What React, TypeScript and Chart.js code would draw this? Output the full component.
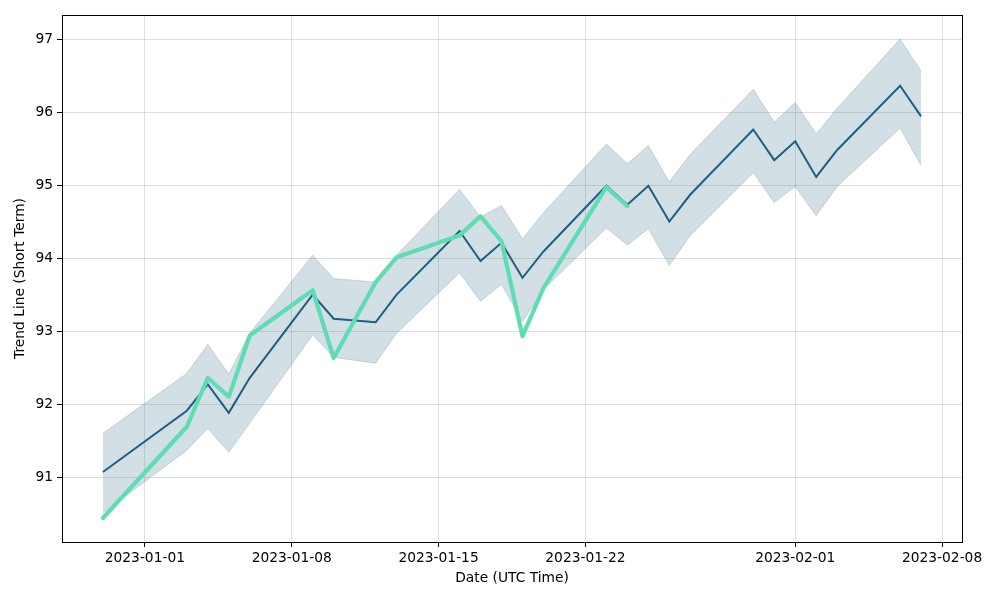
import React, { useEffect, useRef } from "react";
import { Chart, registerables } from "chart.js";

Chart.register(...registerables);

// Trading dates for the trend line and its band
const trendDates = [
  "2022-12-30", "2023-01-03", "2023-01-04", "2023-01-05", "2023-01-06",
  "2023-01-09", "2023-01-10", "2023-01-12", "2023-01-13", "2023-01-16",
  "2023-01-17", "2023-01-18", "2023-01-19", "2023-01-20", "2023-01-23",
  "2023-01-24", "2023-01-25", "2023-01-26", "2023-01-27", "2023-01-30",
  "2023-01-31", "2023-02-01", "2023-02-02", "2023-02-03", "2023-02-06",
  "2023-02-07",
];
const trendValues = [
  91.08, 91.92, 92.28, 91.89, 92.37, 93.51, 93.18, 93.13, 93.51, 94.38,
  93.97, 94.22, 93.74, 94.10, 95.00, 94.74, 95.00, 94.51, 94.88, 95.77,
  95.35, 95.61, 95.12, 95.49, 96.37, 95.95,
];
const upperValues = [
  91.61, 92.43, 92.83, 92.42, 92.98, 94.05, 93.73, 93.68, 94.05, 94.95,
  94.57, 94.73, 94.27, 94.63, 95.57, 95.30, 95.55, 95.05, 95.43, 96.32,
  95.87, 96.14, 95.71, 96.06, 97.01, 96.57,
];
const lowerValues = [
  90.52, 91.38, 91.68, 91.35, 91.75, 92.96, 92.65, 92.57, 92.98, 93.81,
  93.42, 93.65, 93.14, 93.58, 94.42, 94.19, 94.41, 93.91, 94.32, 95.18,
  94.77, 94.99, 94.59, 94.99, 95.79, 95.28,
];

// Actual (short-term) line
const actualDates = [
  "2022-12-30", "2023-01-03", "2023-01-04", "2023-01-05", "2023-01-06",
  "2023-01-09", "2023-01-10", "2023-01-12", "2023-01-13", "2023-01-16",
  "2023-01-17", "2023-01-18", "2023-01-19", "2023-01-20", "2023-01-23",
  "2023-01-24",
];
const actualValues = [
  90.45, 91.70, 92.37, 92.11, 92.95, 93.57, 92.64, 93.68, 94.02, 94.32,
  94.58, 94.24, 92.94, 93.60, 94.98, 94.72,
];

const xTickLabels = [
  "2023-01-01", "2023-01-08", "2023-01-15", "2023-01-22", "2023-02-01", "2023-02-08",
];
const yTickValues = [91, 92, 93, 94, 95, 96, 97];

const DAY = 86400000;
const BASE = Date.UTC(2023, 0, 1);
const toDay = (s: string) => {
  const [y, m, d] = s.split("-").map(Number);
  return (Date.UTC(y, m - 1, d) - BASE) / DAY;
};
const fromDay = (v: number) => {
  const dt = new Date(BASE + Math.round(v) * DAY);
  return dt.toISOString().slice(0, 10);
};

const FONT = "'DejaVu Sans', sans-serif";
const FS = 13.8;
const DARK = "rgb(31,94,126)";
const GREEN = "rgb(96,220,181)";

export default function App() {
  const ref = useRef<HTMLCanvasElement | null>(null);

  useEffect(() => {
    if (!ref.current) return;
    const pts = (dates: string[], vals: number[]) =>
      dates.map((d, i) => ({ x: toDay(d), y: vals[i] }));

    const allX = trendDates.map(toDay);
    const xMinD = Math.min(...allX);
    const xMaxD = Math.max(...allX);
    const xm = (xMaxD - xMinD) * 0.05;
    const allY = [...upperValues, ...lowerValues, ...actualValues];
    const yMinD = Math.min(...allY);
    const yMaxD = Math.max(...allY);
    const ym = (yMaxD - yMinD) * 0.05;

    const framePlugin = {
      id: "frame",
      afterDraw(chart: any) {
        const { ctx, chartArea } = chart;
        ctx.save();
        ctx.strokeStyle = "#000";
        ctx.lineWidth = 1;
        ctx.strokeRect(
          Math.round(chartArea.left) + 0.5,
          Math.round(chartArea.top) + 0.5,
          Math.round(chartArea.right - chartArea.left),
          Math.round(chartArea.bottom - chartArea.top)
        );
        ctx.restore();
      },
    };

    const chart = new Chart(ref.current, {
      type: "line",
      data: {
        datasets: [
          {
            label: "lower",
            data: pts(trendDates, lowerValues),
            borderColor: "rgba(31,94,126,0.2)",
            borderWidth: 1,
            pointRadius: 0,
            fill: false,
            order: 3,
          },
          {
            label: "upper",
            data: pts(trendDates, upperValues),
            borderColor: "rgba(31,94,126,0.2)",
            backgroundColor: "rgba(31,94,126,0.2)",
            borderWidth: 1,
            pointRadius: 0,
            fill: "-1",
            order: 2,
          },
          {
            label: "Trend",
            data: pts(trendDates, trendValues),
            borderColor: DARK,
            borderWidth: 2,
            pointRadius: 0,
            fill: false,
            order: 1,
          },
          {
            label: "Actual",
            data: pts(actualDates, actualValues),
            borderColor: GREEN,
            borderWidth: 4.2,
            borderCapStyle: "round",
            borderJoinStyle: "round",
            pointRadius: 0,
            fill: false,
            order: 0,
          },
        ],
      },
      options: {
        animation: false,
        responsive: false,
        devicePixelRatio: 1,
        layout: { padding: { left: 0, right: 38, top: 15, bottom: 0 } },
        plugins: {
          legend: { display: false },
          tooltip: { enabled: false },
        },
        scales: {
          x: {
            type: "linear",
            min: xMinD - xm,
            max: xMaxD + xm,
            border: { display: false },
            grid: {
              color: "rgba(176,176,176,0.4)",
              tickColor: "#000",
              tickLength: 5,
              lineWidth: 1,
            },
            ticks: {
              color: "#000",
              font: { family: FONT, size: FS },
              padding: 3,
              maxRotation: 0,
              autoSkip: false,
              callback: (v: any) => fromDay(Number(v)),
            },
            afterBuildTicks: (scale: any) => {
              scale.ticks = xTickLabels.map((l) => ({ value: toDay(l) }));
            },
            afterFit: (scale: any) => {
              scale.height = 58;
            },
            title: {
              display: true,
              text: "Date (UTC Time)",
              color: "#000",
              font: { family: FONT, size: FS },
              padding: { top: 0, bottom: 13 },
            },
          },
          y: {
            type: "linear",
            min: yMinD - ym,
            max: yMaxD + ym,
            border: { display: false },
            grid: {
              color: "rgba(176,176,176,0.4)",
              tickColor: "#000",
              tickLength: 5,
              lineWidth: 1,
            },
            ticks: {
              color: "#000",
              font: { family: FONT, size: FS },
              padding: 4,
              includeBounds: false,
              callback: (v: any) => String(v),
            },
            afterBuildTicks: (scale: any) => {
              scale.ticks = yTickValues.map((v) => ({ value: v }));
            },
            afterFit: (scale: any) => {
              scale.width = 62;
            },
            title: {
              display: true,
              text: "Trend Line (Short Term)",
              color: "#000",
              font: { family: FONT, size: FS },
              padding: { top: 12, bottom: 0 },
            },
          },
        },
      },
      plugins: [framePlugin],
    } as any);

    return () => chart.destroy();
  }, []);

  return (
    <div style={{ position: "absolute", left: 0, top: 0, width: 1000, height: 600, background: "#fff" }}>
      <canvas ref={ref} width={1000} height={600} style={{ width: 1000, height: 600, display: "block" }} />
    </div>
  );
}
